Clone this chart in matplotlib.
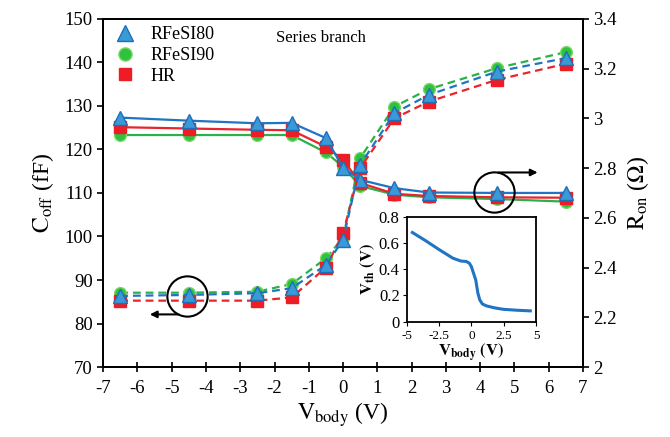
import matplotlib
matplotlib.use("Agg")
import matplotlib.pyplot as plt
from matplotlib.lines import Line2D

plt.rcParams["font.family"] = ["Liberation Serif", "DejaVu Serif"]
plt.rcParams["mathtext.fontset"] = "stix"
plt.rcParams["axes.unicode_minus"] = False

# ---------------------------------------------------------------------------
# Data
# ---------------------------------------------------------------------------
v_body = [-6.5, -4.5, -2.5, -1.5, -0.5, 0, 0.5, 1.5, 2.5, 4.5, 6.5]

# Off capacitance (fF), left axis, solid lines
coff_rfesi80 = [127.3, 126.6, 126.0, 126.1, 122.6, 115.8, 113.0, 111.1, 110.1, 110.0, 110.0]
coff_rfesi90 = [123.3, 123.3, 123.3, 123.3, 119.3, 116.0, 111.6, 109.6, 109.0, 108.6, 108.0]
coff_hr = [125.1, 124.8, 124.5, 124.4, 120.6, 117.6, 112.3, 109.8, 109.3, 109.0, 108.9]

# On resistance (ohm), right axis, dashed lines
ron_rfesi80 = [2.286, 2.290, 2.297, 2.317, 2.410, 2.511, 2.813, 3.021, 3.094, 3.188, 3.242]
ron_rfesi90 = [2.299, 2.299, 2.303, 2.334, 2.437, 2.520, 2.840, 3.047, 3.117, 3.202, 3.266]
ron_hr = [2.267, 2.267, 2.267, 2.280, 2.400, 2.538, 2.800, 3.000, 3.067, 3.155, 3.219]

# Inset: threshold voltage vs body voltage
inset_vbody = [-4.56, -3.5, -2.47, -1.43, -0.8, -0.39, -0.15, 0.0, 0.2, 0.34, 0.5, 0.65, 0.85, 1.17, 1.8, 2.47, 3.5, 4.56]
inset_vth = [0.68, 0.615, 0.548, 0.484, 0.462, 0.459, 0.445, 0.42, 0.36, 0.318, 0.22, 0.166, 0.135, 0.12, 0.105, 0.094, 0.087, 0.082]

series_names = ["RFeSI80", "RFeSI90", "HR"]

# colours / marker styles per series
styles = {
    "RFeSI80": dict(line="#1f74c4", face="#3a9ad8", edge="#1f6fb8", marker="^", ms=10),
    "RFeSI90": dict(line="#2bb04a", face="#2fc23c", edge="#7bd86a", marker="o", ms=8.5),
    "HR": dict(line="#e8242c", face="#ee1c24", edge="#ee1c24", marker="s", ms=8),
}

fig = plt.figure(figsize=(6.7, 4.37), dpi=100)
ax = fig.add_axes([0.154, 0.160, 0.716, 0.797])
ax2 = ax.twinx()

coff = {"RFeSI80": coff_rfesi80, "RFeSI90": coff_rfesi90, "HR": coff_hr}
ron = {"RFeSI80": ron_rfesi80, "RFeSI90": ron_rfesi90, "HR": ron_hr}

# draw order: green, red, blue on top
for name in ["RFeSI90", "HR", "RFeSI80"]:
    st = styles[name]
    ax.plot(v_body, coff[name], color=st["line"], lw=1.6, marker=st["marker"],
            ms=st["ms"], mfc=st["face"], mec=st["edge"], mew=1.0)
    ax2.plot(v_body, ron[name], color=st["line"], lw=1.6, dashes=(3.5, 2.2),
             marker=st["marker"], ms=st["ms"], mfc=st["face"], mec=st["edge"], mew=1.0)

# --- Main axes ---
ax.set_xlim(-7, 7)
ax.set_ylim(70, 150)
ax.set_xticks(range(-7, 8))
ax.set_yticks(range(70, 151, 10))
ax2.set_ylim(2, 3.4)
ax2.set_yticks([2, 2.2, 2.4, 2.6, 2.8, 3, 3.2, 3.4])
ax2.set_yticklabels(["2", "2.2", "2.4", "2.6", "2.8", "3", "3.2", "3.4"])

ax.tick_params(axis="x", direction="inout", length=7, width=1.2, labelsize=13.5, pad=6)
ax.tick_params(axis="y", direction="out", length=4, width=1.2, labelsize=13.5)
ax2.tick_params(axis="y", direction="out", length=4, width=1.2, labelsize=13.5)
for a in (ax, ax2):
    for sp in a.spines.values():
        sp.set_linewidth(1.3)

ax.set_xlabel(r"$\mathrm{V_{body}}$ (V)", fontsize=17, labelpad=2)
ax.set_ylabel(r"$\mathrm{C_{off}}$ (fF)", fontsize=17, labelpad=6)
ax2.set_ylabel(r"$\mathrm{R_{on}}$ ($\Omega$)", fontsize=17, labelpad=6)

ax.text(-1.95, 145.5, "Series branch", fontsize=12, va="center", ha="left")

# legend (markers only)
handles = []
for name in series_names:
    st = styles[name]
    handles.append(Line2D([], [], ls="none", marker=st["marker"], ms=st["ms"] + 1,
                          mfc=st["face"], mec=st["edge"], mew=1.0, label=name))
ax.legend(handles=handles, loc="upper left", bbox_to_anchor=(-0.025, 1.025), frameon=False,
          fontsize=13, handletextpad=0.4, labelspacing=0.2, borderaxespad=0.5)

# circle + arrow annotations
ax.plot([-4.55], [86.4], marker="o", ms=29, mfc="none", mec="black", mew=1.5)
ax.annotate("", xy=(-5.72, 82.1), xytext=(-4.72, 82.1),
            arrowprops=dict(arrowstyle="-|>", color="black", lw=1.5, mutation_scale=10))
ax.plot([4.4], [110.3], marker="o", ms=29, mfc="none", mec="black", mew=1.5)
ax.annotate("", xy=(5.76, 114.7), xytext=(4.45, 114.7),
            arrowprops=dict(arrowstyle="-|>", color="black", lw=1.5, mutation_scale=10))

# --- Inset ---
axi = fig.add_axes([0.607, 0.264, 0.193, 0.240])
axi.plot(inset_vbody, inset_vth, color="#1f74c4", lw=2.2)
axi.set_xlim(-5, 5)
axi.set_ylim(0, 0.8)
axi.set_xticks([-5, -2.5, 0, 2.5, 5])
axi.set_xticklabels(["-5", "-2.5", "0", "2.5", "5"])
axi.set_yticks([0, 0.2, 0.4, 0.6, 0.8])
axi.set_yticklabels(["0", "0.2", "0.4", "0.6", "0.8"])
axi.tick_params(axis="x", direction="out", length=3, labelsize=9.5, pad=3)
axi.tick_params(axis="y", direction="out", length=3, labelsize=12, pad=2)
for sp in axi.spines.values():
    sp.set_linewidth(1.3)
axi.set_xlabel(r"$\mathbf{V_{body}}$ $\mathbf{(V)}$", fontsize=12, labelpad=0)
axi.set_ylabel(r"$\mathbf{V_{th}}$ $\mathbf{(V)}$", fontsize=12, labelpad=1)

fig.savefig("out.png", dpi=100)
